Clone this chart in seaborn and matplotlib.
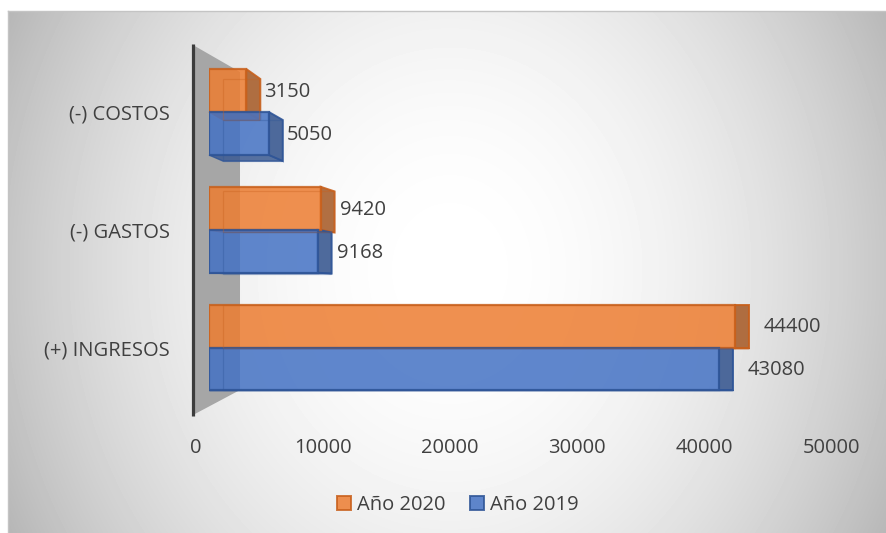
import numpy as np
import pandas as pd
import matplotlib
matplotlib.use("Agg")
import matplotlib.pyplot as plt
from matplotlib.patches import Polygon, Patch
from matplotlib.transforms import IdentityTransform
import seaborn as sns

# ---- data -------------------------------------------------------------
categorias = ["(-) COSTOS", "(-) GASTOS", "(+) INGRESOS"]
series = ["Año 2020", "Año 2019"]
valores_2020 = [3150, 9420, 44400]
valores_2019 = [5050, 9168, 43080]
ticks_x = [0, 10000, 20000, 30000, 40000, 50000]

df = pd.DataFrame({
    "categoria": categorias * 2,
    "serie": [series[0]] * len(categorias) + [series[1]] * len(categorias),
    "valor": valores_2020 + valores_2019,
})

# ---- style ------------------------------------------------------------
W, H, DPI = 886, 533, 100
sns.set_theme(style="white")
plt.rcParams["font.family"] = ["Open Sans", "DejaVu Sans"]
TXT = "#404040"
FS = 14.5
face = {"Año 2020": "#ED7D31", "Año 2019": "#4472C4"}
edge = {"Año 2020": "#C8601C", "Año 2019": "#2F5597"}
side = {"Año 2020": "#A9602E", "Año 2019": "#3B5A92"}

fig = plt.figure(figsize=(W / DPI, H / DPI), dpi=DPI)
fig.patch.set_facecolor("white")


def fig_rect(x0, y0, x1, y1):
    """Pixel box (from top-left) -> figure fraction rect."""
    return [x0 / W, 1 - y1 / H, (x1 - x0) / W, (y1 - y0) / H]


# ---- chart area with soft radial shading --------------------------------
bg = fig.add_axes(fig_rect(8, 11, 886, 533), zorder=-10)
xs = np.arange(8, 886) + 0.5
ys = np.arange(11, 533) + 0.5
X, Y = np.meshgrid(xs, ys)
r = np.sqrt(((X - 450) / 450) ** 2 + ((Y - 270) / 520) ** 2)
shade = 1 - 0.235 * np.clip(r, 0, 1.2) ** 2
bg.imshow(shade, cmap="gray", vmin=0, vmax=1, extent=(0, 1, 0, 1),
          aspect="auto", interpolation="bilinear")
bg.set_xticks([]); bg.set_yticks([])
for k, s in bg.spines.items():
    s.set_visible(k in ("left", "top"))
    s.set_color("#c4c4c4")
    s.set_linewidth(1.0)

# ---- main bar axes ------------------------------------------------------
PX_PER_UNIT = 0.011848
X0 = 209
Y0, Y_STEP = 112, 117.75
ax = fig.add_axes(fig_rect(X0, Y0 - 0.6 * Y_STEP,
                           X0 + 50000 * PX_PER_UNIT, Y0 + 2.6 * Y_STEP))
ax.patch.set_alpha(0)

sns.barplot(data=df, x="valor", y="categoria", hue="serie",
            order=categorias, hue_order=series, palette=face,
            orient="h", width=0.73, saturation=1, alpha=0.85,
            legend=False, ax=ax)
ax.set_xlim(0, 50000)
ax.set_ylim(2.6, -0.6)
ax.set_xticks([])
ax.set_xlabel("")
ax.set_ylabel("")
ax.tick_params(axis="y", length=0, pad=28, labelsize=FS, labelcolor=TXT)
for s in ax.spines.values():
    s.set_visible(False)

ident = IdentityTransform()

# side wall behind the bars
wall = [(193, 45), (240, 72), (240, 390), (193, 415)]
ax.add_patch(Polygon([(x, H - y) for x, y in wall], closed=True,
                     facecolor="#a6a6a6", edgecolor="none",
                     transform=ident, clip_on=False, zorder=0.3))
ax.plot([193, 193], [H - 44, H - 416], color="#3c3c3c", lw=2.3,
        transform=ident, clip_on=False, zorder=0.35, solid_capstyle="butt")

# depth faces of each bar
DX = 14


def depth_dy(y_px):
    return max(0.0, 0.045 * (290 - y_px))


for serie, cont in zip(series, ax.containers):
    for bar in cont:
        bar.set_edgecolor(edge[serie])
        bar.set_linewidth(1.6)
        (xa, ya), (xb, yb_) = ax.transData.transform(
            [(bar.get_x(), bar.get_y()), (bar.get_x() + bar.get_width(),
                                          bar.get_y() + bar.get_height())])
        x0d, x1d = min(xa, xb), max(xa, xb)
        ytop, ybot = max(ya, yb_), min(ya, yb_)
        dyt = depth_dy(H - ytop)
        dyb = depth_dy(H - ybot)
        # bottom face
        ax.add_patch(Polygon([(x0d, ybot), (x1d, ybot), (x1d + DX, ybot - dyb),
                              (x0d + DX, ybot - dyb)], closed=True,
                             facecolor=side[serie], edgecolor=edge[serie],
                             lw=1.0, alpha=0.85, transform=ident,
                             clip_on=False, zorder=0.8))
        # right side face
        ax.add_patch(Polygon([(x1d, ytop), (x1d + DX, ytop - dyt),
                              (x1d + DX, ybot - dyb), (x1d, ybot)], closed=True,
                             facecolor=side[serie], edgecolor=edge[serie],
                             lw=1.4, alpha=0.9, transform=ident,
                             clip_on=False, zorder=0.8))
        # faint back edges seen through the translucent front
        ax.add_patch(Polygon([(x0d + DX, ytop - dyt), (x1d + DX - 1, ytop - dyt),
                              (x1d + DX - 1, ybot - dyb), (x0d + DX, ybot - dyb)],
                             closed=True, facecolor="none",
                             edgecolor=edge[serie], lw=0.9, alpha=0.35,
                             transform=ident, clip_on=False, zorder=1.2))
        # value label
        v = bar.get_width()
        gap = 17 + 0.00025 * v
        ax.annotate(f"{v:.0f}", xy=(v, bar.get_y() + bar.get_height() / 2),
                    xytext=(gap * 0.72, -1.0), textcoords="offset points",
                    ha="left", va="center", fontsize=FS, color=TXT,
                    annotation_clip=False)

# ---- value axis labels on the back plane --------------------------------
ax2 = fig.add_axes(fig_rect(196, 434, 831, 435))
ax2.patch.set_alpha(0)
ax2.set_xlim(0, 50000)
ax2.set_xticks(ticks_x)
ax2.set_xticklabels([str(t) for t in ticks_x])
ax2.set_yticks([])
ax2.tick_params(axis="x", length=0, pad=2, labelsize=FS, labelcolor=TXT)
for s in ax2.spines.values():
    s.set_visible(False)

# ---- legend ---------------------------------------------------------------
handles = [Patch(facecolor=face[s], edgecolor=edge[s], alpha=0.85, lw=1.4)
           for s in series]
fig.legend(handles, series, loc="center", bbox_to_anchor=(458 / W, 1 - 505 / H),
           ncol=2, frameon=False, fontsize=FS, handlelength=0.7,
           handleheight=0.7, handletextpad=0.3, columnspacing=1.2,
           labelcolor=TXT)

fig.savefig("out.png", dpi=DPI)
